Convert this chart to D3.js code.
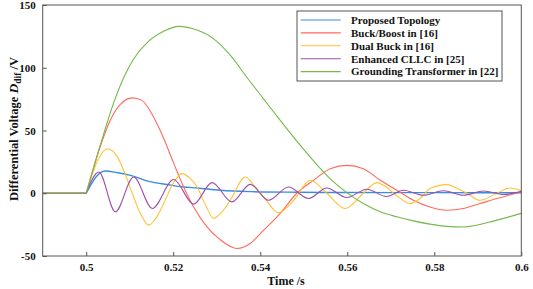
<!DOCTYPE html>
<html lang="en">
<head>
  <meta charset="utf-8" />
  <title>Differential Voltage</title>
  <script src="https://d3js.org/d3.v7.min.js"></script>
  <style>
    body { margin: 0; background: #fff; }
    text { font-family: "Liberation Serif", "Times New Roman", serif; font-weight: bold; }
  </style>
</head>
<body>
  <div id="chart"></div>
  <script>
    // series names and colours (legend order = draw order)
    var names = ["Proposed Topology", "Buck/Boost in [16]", "Dual Buck in [16]",
                 "Enhanced CLLC in [25]", "Grounding Transformer in [22]"];
    var colors = ["#3a8ede", "#ff6a5a", "#ffc233", "#9b4fa8", "#77b84a"];

    // [time (s), voltage (V)]
    var proposed = [[0.49,0],[0.5,0],[0.5025,14],[0.5044,17.7],[0.507,16.5],[0.5102,14.3],
      [0.5144,9.5],[0.5186,7],[0.5224,5],[0.5255,4.2],[0.5308,2.4],[0.5377,1.3],
      [0.5484,0.8],[0.56,0.6],[0.58,0.5],[0.6,0.4]];
    var buckBoost = [[0.49,0],[0.5,0],[0.5035,40],[0.5055,58],[0.5079,71],[0.5106,76],
      [0.5128,74],[0.5148,65],[0.5174,47],[0.5201,24],[0.5224,5],[0.5247,-11],
      [0.5278,-27],[0.5308,-37],[0.5347,-44],[0.5377,-40],[0.5408,-29.4],[0.5446,-16],
      [0.5484,0],[0.5522,10.3],[0.5561,19.6],[0.5599,22.2],[0.5637,19.6],[0.5676,10.3],
      [0.5714,2.4],[0.5752,-5.6],[0.579,-10.9],[0.5829,-13.5],[0.5867,-12.1],
      [0.5905,-8.2],[0.5944,-4.2],[0.6,1]];
    var dualBuck = [[0.49,0],[0.5,0],[0.5025,25],[0.5048,35.5],[0.507,30],[0.5086,18.3],
      [0.5109,-3],[0.5127,-18],[0.5144,-25.4],[0.516,-20],[0.5178,-8.2],[0.52,8],
      [0.522,15.6],[0.5238,12],[0.5255,5],[0.5275,-10],[0.5293,-20],[0.5312,-15],
      [0.5331,-5.6],[0.5366,12.9],[0.5386,6],[0.5408,-2.9],[0.5442,-15.6],[0.5477,-5.6],
      [0.5515,10.3],[0.5553,0],[0.5595,-12.1],[0.5637,0],[0.5668,8.5],[0.5685,6],
      [0.5714,-2],[0.5744,-8.2],[0.5768,-4],[0.579,3.7],[0.5829,6.9],[0.5852,4],
      [0.5875,0],[0.5905,-5.6],[0.5944,0],[0.5974,4.2],[0.6,2]];
    var cllc = [[0.49,0],[0.5,0],[0.5029,16.9],[0.5067,-14.8],[0.5109,12.9],[0.5152,-12.1],
      [0.5201,10.9],[0.5247,-8.7],[0.5289,8.5],[0.5335,-6.9],[0.5377,7.1],[0.5419,-5.6],
      [0.5465,5],[0.5511,-4.2],[0.5553,4.2],[0.5599,-3.4],[0.5645,3.2],[0.569,-2.6],
      [0.5729,2.4],[0.5775,-1.6],[0.5821,2],[0.5867,-1.6],[0.5913,1.8],[0.5959,-1],[0.6,1.5]];
    var grounding = [[0.49,0],[0.5,0],[0.504,47],[0.5063,72],[0.5086,92],[0.5109,107],
      [0.514,120],[0.5178,129],[0.5213,133],[0.5255,130],[0.5293,123],[0.5331,110],
      [0.537,92],[0.5408,75],[0.5446,58],[0.5484,41.5],[0.5522,26],[0.5561,11.5],
      [0.5599,0.5],[0.5637,-8.2],[0.5676,-14.8],[0.5714,-18.8],[0.5752,-22],[0.579,-24.6],
      [0.5829,-26.4],[0.5867,-26.9],[0.5944,-21.4],[0.6,-16]];
    var series = [proposed, buckBoost, dualBuck, cllc, grounding];

    var xTicks = [0.5, 0.52, 0.54, 0.56, 0.58, 0.6];
    var xTickLabels = ["0.5", "0.52", "0.54", "0.56", "0.58", "0.6"];
    var yTicks = [-50, 0, 50, 100, 150];
    var yTickLabels = ["-50", "0", "50", "100", "150"];

    var width = 533, height = 289;
    var svg = d3.select("#chart").append("svg")
                .attr("width", width).attr("height", height);

    var x = d3.scaleLinear().domain([0.49, 0.6]).range([42.7, 521.3]);
    var y = d3.scaleLinear().domain([-50, 150]).range([256, 5]);

    // traces: flat lead-in drawn straight, the rest smoothed
    var lineFlat = d3.line().x(function(d) { return x(d[0]); }).y(function(d) { return y(d[1]); });
    var lineCurve = d3.line().x(function(d) { return x(d[0]); }).y(function(d) { return y(d[1]); })
                      .curve(d3.curveMonotoneX);

    series.forEach(function(s, i) {
      var pre = s.filter(function(d) { return d[0] <= 0.5; });
      var post = s.filter(function(d) { return d[0] >= 0.5; });
      svg.append("path").attr("d", lineFlat(pre) + lineCurve(post).replace(/^M/, "L"))
         .attr("fill", "none")
         .attr("stroke", colors[i])
         .attr("stroke-width", i == 0 ? 1.4 : 1.1);
    });

    // axes, ticks pointing inward
    var xAxis = svg.append("g").attr("transform", "translate(0,256)")
       .call(d3.axisBottom(x).tickValues(xTicks).tickSize(-4).tickPadding(7)
               .tickFormat(function(d, i) { return xTickLabels[i]; }));
    var yAxis = svg.append("g").attr("transform", "translate(42.7,0)")
       .call(d3.axisLeft(y).tickValues(yTicks).tickSize(-4).tickPadding(7)
               .tickFormat(function(d, i) { return yTickLabels[i]; }));
    [xAxis, yAxis].forEach(function(g) {
      g.select(".domain").remove();
      g.selectAll("line").attr("stroke", "#555");
      g.selectAll("text").attr("font-size", 11).attr("fill", "#111");
    });

    // box
    svg.append("rect").attr("x", 42.7).attr("y", 5).attr("width", 521.3 - 42.7).attr("height", 251)
       .attr("fill", "none").attr("stroke", "#555").attr("stroke-width", 1);

    // axis titles
    svg.append("text").attr("x", 286).attr("y", 285).attr("text-anchor", "middle")
       .attr("font-size", 12).attr("fill", "#111").text("Time /s");

    var yl = svg.append("text").attr("transform", "translate(18,129) rotate(-90)")
       .attr("text-anchor", "middle").attr("font-size", 12.5).attr("fill", "#111");
    yl.append("tspan").text("Differential Voltage  ");
    yl.append("tspan").attr("font-style", "italic").attr("font-size", 13.5).text("D");
    yl.append("tspan").attr("dy", 3).attr("font-size", 9.5).text("dif");
    yl.append("tspan").attr("dy", -3).text(" /V");

    // legend
    var legend = svg.append("g");
    legend.append("rect").attr("x", 297).attr("y", 11).attr("width", 205).attr("height", 70)
          .attr("fill", "#fff").attr("stroke", "#555");
    names.forEach(function(n, i) {
      var ly = 20 + i * 12.9;
      legend.append("line").attr("x1", 300.7).attr("x2", 340.7).attr("y1", ly).attr("y2", ly)
            .attr("stroke", colors[i]).attr("stroke-width", 1.1);
      legend.append("text").attr("x", 351).attr("y", ly + 3.8).attr("font-size", 11)
            .attr("fill", "#111").text(n);
    });
  </script>
</body>
</html>
